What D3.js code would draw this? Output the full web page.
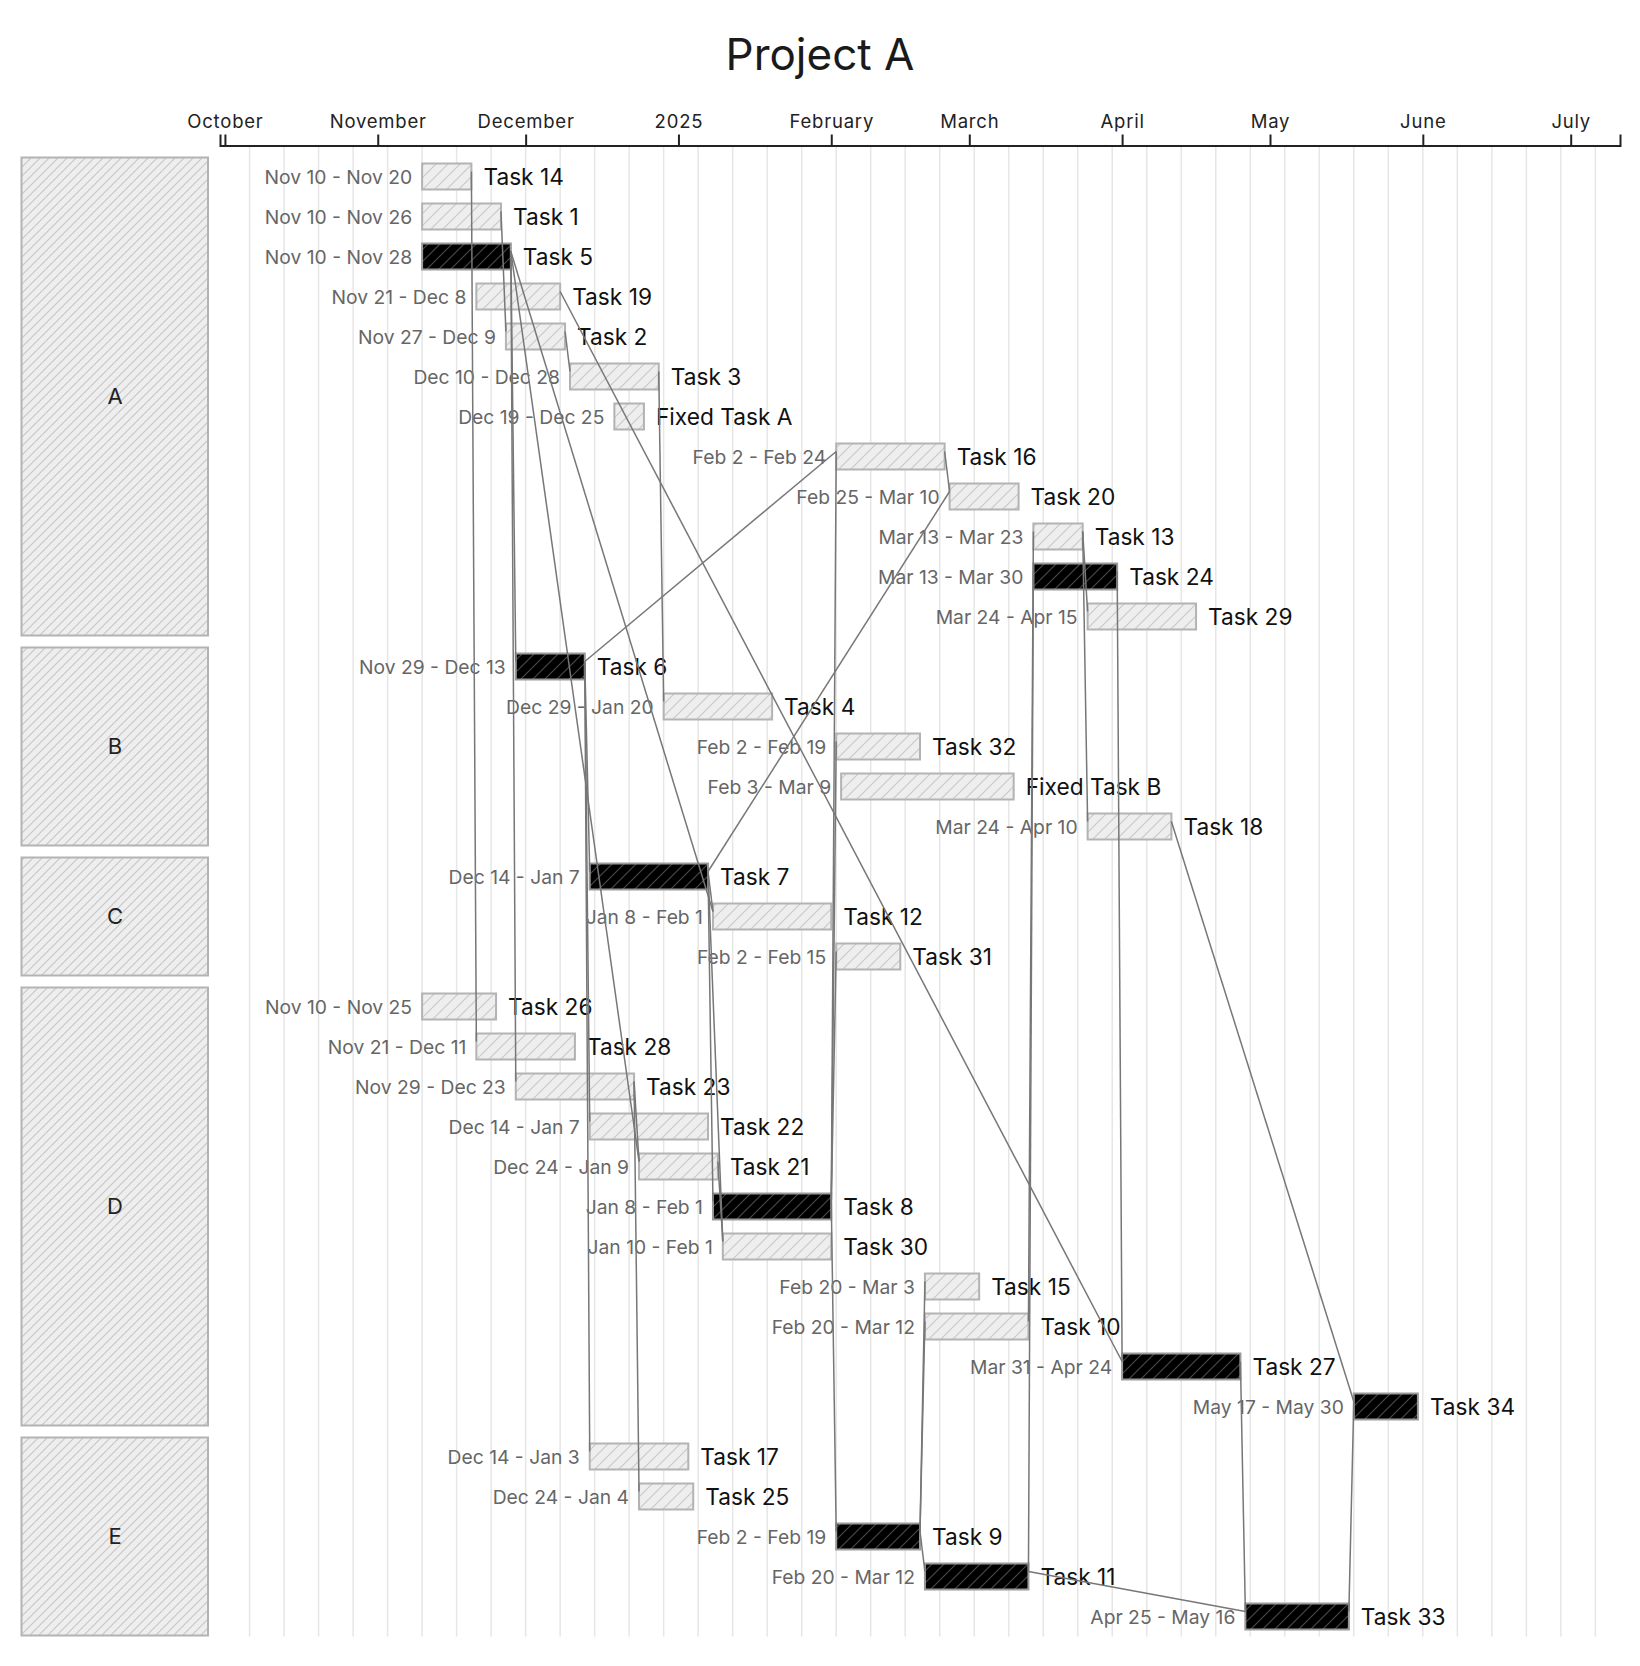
<!DOCTYPE html>
<html><head><meta charset="utf-8">
<script src="https://cdn.jsdelivr.net/npm/d3@7"></script>
<style>
body{margin:0;background:#fff;}
svg{display:block;font-family:Inter,"Noto Sans",sans-serif;}
</style>
</head><body>
<svg id="chart" width="1640" height="1666"></svg>
<script>
// ---------------- data ----------------
const chartTitle = "Project A";
const groups = ["A", "B", "C", "D", "E"];
const taskNames = [
  "Task 14","Task 1","Task 5","Task 19","Task 2","Task 3","Fixed Task A","Task 16","Task 20","Task 13","Task 24","Task 29",
  "Task 6","Task 4","Task 32","Fixed Task B","Task 18",
  "Task 7","Task 12","Task 31",
  "Task 26","Task 28","Task 23","Task 22","Task 21","Task 8","Task 30","Task 15","Task 10","Task 27","Task 34",
  "Task 17","Task 25","Task 9","Task 11","Task 33"
];
const taskGroups = [
  "A","A","A","A","A","A","A","A","A","A","A","A",
  "B","B","B","B","B",
  "C","C","C",
  "D","D","D","D","D","D","D","D","D","D","D",
  "E","E","E","E","E"
];
// plotted start / end of each bar
const taskStart = [
  "2024-11-10","2024-11-10","2024-11-10","2024-11-21","2024-11-27","2024-12-10","2024-12-19","2025-02-02","2025-02-25","2025-03-14","2025-03-14","2025-03-25",
  "2024-11-29","2024-12-29","2025-02-02","2025-02-03","2025-03-25",
  "2024-12-14","2025-01-08","2025-02-02",
  "2024-11-10","2024-11-21","2024-11-29","2024-12-14","2024-12-24","2025-01-08","2025-01-10","2025-02-20","2025-02-20","2025-04-01","2025-05-18",
  "2024-12-14","2024-12-24","2025-02-02","2025-02-20","2025-04-26"
];
const taskEnd = [
  "2024-11-20","2024-11-26","2024-11-28","2024-12-08","2024-12-09","2024-12-28","2024-12-25","2025-02-24","2025-03-11","2025-03-24","2025-03-31","2025-04-16",
  "2024-12-13","2025-01-20","2025-02-19","2025-03-10","2025-04-11",
  "2025-01-07","2025-02-01","2025-02-15",
  "2024-11-25","2024-12-11","2024-12-23","2025-01-07","2025-01-09","2025-02-01","2025-02-01","2025-03-03","2025-03-13","2025-04-25","2025-05-31",
  "2025-01-03","2025-01-04","2025-02-19","2025-03-13","2025-05-17"
];
// date range texts as printed next to the bars
const dateLabels = [
  "Nov 10 - Nov 20","Nov 10 - Nov 26","Nov 10 - Nov 28","Nov 21 - Dec 8","Nov 27 - Dec 9","Dec 10 - Dec 28","Dec 19 - Dec 25","Feb 2 - Feb 24","Feb 25 - Mar 10","Mar 13 - Mar 23","Mar 13 - Mar 30","Mar 24 - Apr 15",
  "Nov 29 - Dec 13","Dec 29 - Jan 20","Feb 2 - Feb 19","Feb 3 - Mar 9","Mar 24 - Apr 10",
  "Dec 14 - Jan 7","Jan 8 - Feb 1","Feb 2 - Feb 15",
  "Nov 10 - Nov 25","Nov 21 - Dec 11","Nov 29 - Dec 23","Dec 14 - Jan 7","Dec 24 - Jan 9","Jan 8 - Feb 1","Jan 10 - Feb 1","Feb 20 - Mar 3","Feb 20 - Mar 12","Mar 31 - Apr 24","May 17 - May 30",
  "Dec 14 - Jan 3","Dec 24 - Jan 4","Feb 2 - Feb 19","Feb 20 - Mar 12","Apr 25 - May 16"
];
const criticalTasks = ["Task 5","Task 6","Task 7","Task 8","Task 9","Task 11","Task 24","Task 27","Task 33","Task 34"];
const depFrom = ["Task 14","Task 1","Task 2","Task 3","Task 5","Task 5","Task 5","Task 5","Task 19","Task 6","Task 6","Task 6","Task 6",
  "Task 7","Task 7","Task 7","Task 7","Task 23","Task 23","Task 21","Task 8","Task 8","Task 8","Task 8","Task 16",
  "Task 9","Task 9","Task 9","Task 10","Task 11","Task 11","Task 13","Task 13","Task 24","Task 27","Task 18","Task 33"];
const depTo = ["Task 28","Task 2","Task 3","Task 4","Task 6","Task 23","Task 21","Task 12","Task 27","Task 7","Task 22","Task 17","Task 16",
  "Task 12","Task 8","Task 30","Task 20","Task 21","Task 25","Task 30","Task 16","Task 32","Task 31","Task 9","Task 20",
  "Task 15","Task 10","Task 11","Task 13","Task 24","Task 33","Task 29","Task 18","Task 27","Task 33","Task 34","Task 34"];
const timeDomain = ["2024-09-30", "2025-07-11"];

// ---------------- layout ----------------
const W = 1640, H = 1666;
const plotLeft = 220, plotRight = 1620;
const rowH = 40, groupGap = 10, rowsTop = 156.5, barH = 26;
const axisY = 145.5;
const parse = d3.timeParse("%Y-%m-%d");

const svg = d3.select("#chart");
const x = d3.scaleTime().domain(timeDomain.map(parse)).range([plotLeft, plotRight]);

// group bands
const groupInfo = [];
let yCursor = rowsTop;
groups.forEach((g) => {
  const n = taskGroups.filter(t => t === g).length;
  groupInfo.push({name: g, top: yCursor, h: n * rowH});
  yCursor += n * rowH + groupGap;
});
const bottomY = groupInfo[groupInfo.length - 1].top + groupInfo[groupInfo.length - 1].h;

const tasks = taskNames.map((name, i) => {
  const gi = groups.indexOf(taskGroups[i]);
  const idx = taskGroups.slice(0, i).filter(t => t === taskGroups[i]).length;
  return {
    name, start: parse(taskStart[i]), end: parse(taskEnd[i]), label: dateLabels[i],
    critical: criticalTasks.includes(name),
    cy: groupInfo[gi].top + rowH / 2 + idx * rowH
  };
});
const byName = new Map(tasks.map(t => [t.name, t]));

// patterns
const defs = svg.append("defs");
function hatch(id, size, bg, line, lw) {
  const p = defs.append("pattern").attr("id", id).attr("patternUnits", "userSpaceOnUse")
    .attr("width", size).attr("height", size);
  p.append("rect").attr("width", size).attr("height", size).attr("fill", bg);
  p.append("path").attr("d", `M${-size/4},${size/4} l${size/2},${-size/2} M0,${size} L${size},0 M${size*3/4},${size*5/4} l${size/2},${-size/2}`)
    .attr("stroke", line).attr("stroke-width", lw);
}
hatch("hatchBox", 9, "#eeeeee", "#c6c6c6", 1.1);
hatch("hatchBar", 12, "#eeeeee", "#c8c8c8", 1.1);
hatch("hatchCrit", 12, "#000000", "#4a4a4a", 1.1);

// title
svg.append("text").attr("x", W / 2).attr("y", 70).attr("text-anchor", "middle")
  .attr("font-size", 44).attr("fill", "#1a1a1a").text(chartTitle);

// weekly grid
svg.append("g").selectAll("line").data(d3.timeWeek.range(x.domain()[0], x.domain()[1]))
  .join("line")
  .attr("x1", d => x(d)).attr("x2", d => x(d))
  .attr("y1", axisY + 1).attr("y2", bottomY)
  .attr("stroke", "#e6e6e6").attr("stroke-width", 1.5);

// group boxes
const gBox = svg.append("g");
gBox.selectAll("rect").data(groupInfo).join("rect")
  .attr("x", 21.5).attr("y", d => d.top + 1).attr("width", 186.5).attr("height", d => d.h - 2)
  .attr("fill", "url(#hatchBox)").attr("stroke", "#b3b3b3").attr("stroke-width", 2);
gBox.selectAll("text").data(groupInfo).join("text")
  .attr("x", 115).attr("y", d => d.top + d.h / 2).attr("dy", "0.36em")
  .attr("text-anchor", "middle").attr("font-size", 22).attr("fill", "#222").text(d => d.name);

// bars
svg.append("g").selectAll("rect").data(tasks).join("rect")
  .attr("x", d => x(d.start)).attr("y", d => d.cy - barH / 2)
  .attr("width", d => x(d.end) - x(d.start)).attr("height", barH)
  .attr("fill", d => d.critical ? "url(#hatchCrit)" : "url(#hatchBar)")
  .attr("stroke", d => d.critical ? "#9a9a9a" : "#b3b3b3").attr("stroke-width", 2);

// date labels
svg.append("g").selectAll("text").data(tasks).join("text")
  .attr("x", d => x(d.start) - 10).attr("y", d => d.cy).attr("dy", "0.37em")
  .attr("text-anchor", "end").attr("font-size", 19.3)
  .attr("fill", "#666").text(d => d.label);

// task names
svg.append("g").selectAll("text").data(tasks).join("text")
  .attr("x", d => x(d.end) + 12).attr("y", d => d.cy).attr("dy", "0.36em")
  .attr("font-size", 22.7).attr("fill", "#111").text(d => d.name);

// dependency lines
const deps = depFrom.map((f, i) => ({from: byName.get(f), to: byName.get(depTo[i])}));
svg.append("g").selectAll("line").data(deps).join("line")
  .attr("x1", d => x(d.from.end)).attr("y1", d => d.from.cy - 5)
  .attr("x2", d => x(d.to.start)).attr("y2", d => d.to.cy - 5)
  .attr("stroke", "#777").attr("stroke-width", 1.5);

// axis
const axis = svg.append("g").attr("transform", `translate(0,${axisY})`)
  .call(d3.axisTop(x).ticks(d3.timeMonth.every(1)).tickSize(11).tickPadding(7));
axis.attr("font-family", null).attr("font-size", 18.5);
axis.select(".domain").attr("stroke", "#222").attr("stroke-width", 2);
axis.selectAll(".tick line").attr("stroke", "#222").attr("stroke-width", 2);
axis.selectAll(".tick text").attr("fill", "#222").attr("letter-spacing", 0.8);
</script>
</body></html>
